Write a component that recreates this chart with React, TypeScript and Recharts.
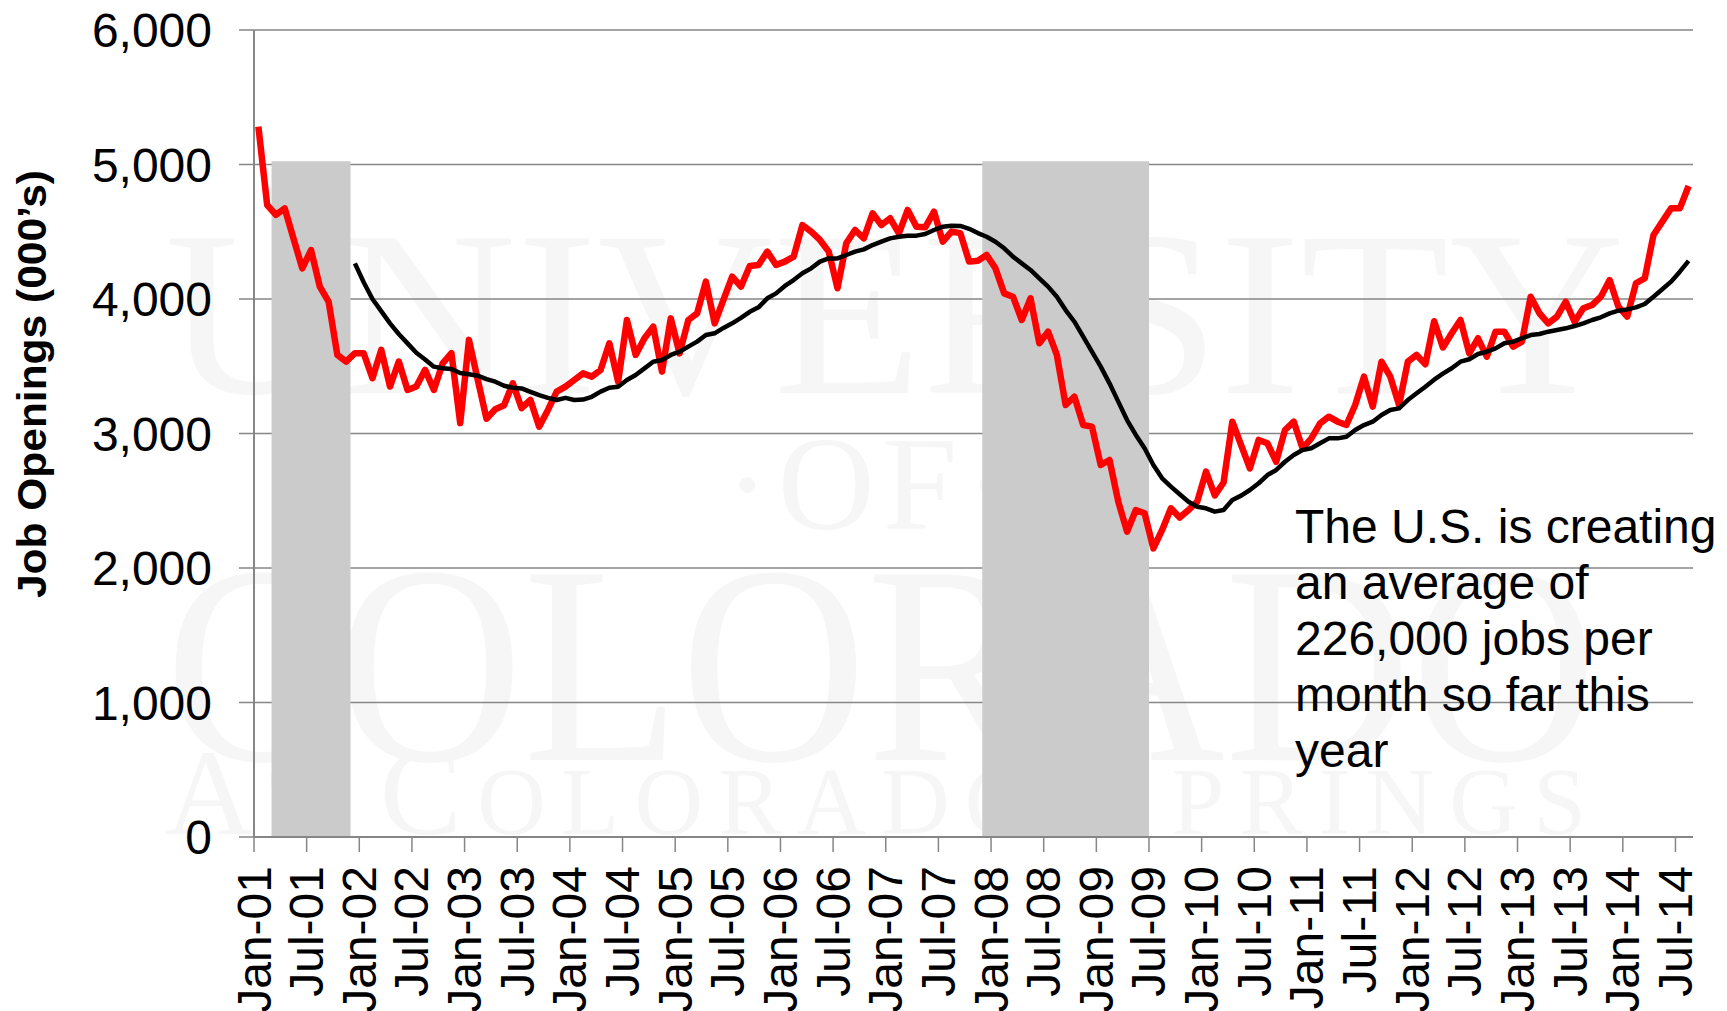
import React from 'react'
import { LineChart, Line, XAxis, YAxis, CartesianGrid, ReferenceArea } from 'recharts'

// Job openings (000's), monthly from Jan-01 to Aug-14
const openings = [
    5281, 4699, 4625, 4674, 4450, 4228, 4364, 4092, 3981, 3584, 3535, 3597,
    3597, 3411, 3622, 3349, 3535, 3324, 3349, 3473, 3324, 3522, 3597, 3077,
    3696, 3400, 3110, 3180, 3210, 3373, 3188, 3250, 3051, 3175, 3311, 3348,
    3398, 3447, 3423, 3472, 3671, 3385, 3844, 3584, 3708, 3794, 3460, 3856,
    3596, 3844, 3893, 4129, 3819, 3993, 4166, 4092, 4245, 4253, 4352, 4253,
    4278, 4315, 4550, 4501, 4439, 4352, 4080, 4414, 4513, 4451, 4637, 4550,
    4600, 4488, 4662, 4538, 4533, 4649, 4426, 4501, 4490, 4278, 4285, 4327,
    4228, 4042, 4017, 3844, 4005, 3671, 3757, 3584, 3212, 3274, 3063, 3051,
    2766, 2803, 2493, 2270, 2431, 2407, 2146, 2283, 2444, 2375, 2431, 2493,
    2716, 2540, 2636, 3088, 2914, 2741, 2952, 2927, 2790, 3026, 3088, 2890,
    2964, 3076, 3125, 3088, 3063, 3212, 3423, 3200, 3534, 3423, 3212, 3534,
    3584, 3515, 3835, 3640, 3745, 3844, 3596, 3708, 3571, 3757, 3757, 3646,
    3683, 4017, 3894, 3819, 3869, 3980, 3831, 3931, 3955, 4017, 4141, 3943,
    3869, 4117, 4154, 4476, 4575, 4674, 4674, 4840,
]

// 12-month moving average, starts at Dec-01
const avgStart = 11
const movingAverage = [
    4265,
    4125, 4000, 3910, 3819, 3740, 3670, 3600, 3550, 3497, 3485, 3480, 3450,
    3440, 3430, 3405, 3385, 3355, 3340, 3335, 3310, 3286, 3265, 3249, 3265,
    3249, 3252, 3273, 3311, 3340, 3348, 3398, 3435, 3484, 3534, 3546, 3584,
    3608, 3646, 3683, 3732, 3745, 3785, 3819, 3860, 3905, 3938, 4005, 4042,
    4097, 4141, 4191, 4228, 4278, 4302, 4302, 4327, 4352, 4369, 4401, 4426,
    4451, 4463, 4471, 4471, 4483, 4513, 4538, 4545, 4543, 4522, 4490, 4463,
    4426, 4377, 4315, 4265, 4216, 4154, 4092, 4017, 3918, 3831, 3720, 3608,
    3497, 3373, 3237, 3100, 2989, 2890, 2766, 2667, 2605, 2548, 2493, 2456,
    2444, 2419, 2431, 2506, 2538, 2580, 2630, 2691, 2729, 2790, 2840, 2877,
    2890, 2927, 2964, 2964, 2976, 3026, 3063, 3088, 3138, 3175, 3187, 3249,
    3299, 3348, 3400, 3445, 3485, 3534, 3552, 3591, 3608, 3633, 3671, 3683,
    3708, 3732, 3740, 3757, 3770, 3782, 3799, 3819, 3844, 3864, 3893, 3913,
    3923, 3938, 3963, 4017, 4072, 4129, 4203, 4283,
]

const tickLabels = [
    'Jan-01', 'Jul-01', 'Jan-02', 'Jul-02', 'Jan-03', 'Jul-03', 'Jan-04', 'Jul-04',
    'Jan-05', 'Jul-05', 'Jan-06', 'Jul-06', 'Jan-07', 'Jul-07', 'Jan-08', 'Jul-08',
    'Jan-09', 'Jul-09', 'Jan-10', 'Jul-10', 'Jan-11', 'Jul-11', 'Jan-12', 'Jul-12',
    'Jan-13', 'Jul-13', 'Jan-14', 'Jul-14',
]
const yTicks = [0, 1000, 2000, 3000, 4000, 5000, 6000]

// recessions, as month indexes (Mar-01..Nov-01, Dec-07..Jun-09)
const recessionStart = [2, 83]
const recessionEnd = [10, 101]
const recessionTop = 5025

const noteLines = ['The U.S. is creating', 'an average of', '226,000 jobs per', 'month so far this', 'year']

const FONT = '"Liberation Sans", Arial, sans-serif'
const SERIF = '"Liberation Serif", "Times New Roman", serif'
const AXIS_GRAY = '#868686'

const data = openings.map((v, i) => ({
    i,
    openings: v,
    avg: i >= avgStart ? movingAverage[i - avgStart] : null,
}))
const xTicks = tickLabels.map((_, k) => k * 6 - 0.5)

const XTick = (props: any) => {
    const { x, y, payload } = props
    const label = tickLabels[Math.round((payload.value + 0.5) / 6)]
    return (
        <text
            x={x}
            y={y}
            transform={`rotate(-90 ${x} ${y})`}
            textAnchor="end"
            dominantBaseline="central"
            fontSize={48}
            fontFamily={FONT}
            fill="#000"
        >
            {label}
        </text>
    )
}

const YTitle = () => (
    <text
        x={46}
        y={384}
        transform="rotate(-90 46 384)"
        textAnchor="middle"
        fontSize={40}
        fontWeight="bold"
        fontFamily={FONT}
        fill="#000"
        textLength={428}
        lengthAdjust="spacingAndGlyphs"
    >
        Job Openings (000’s)
    </text>
)

function Watermark() {
    const c = '#f6f6f6'
    return (
        <svg width={1727} height={1011} style={{ position: 'absolute', left: 0, top: 0 }}>
            <text x={165} y={393} fontSize={236} fontFamily={SERIF} fill={c} textLength={1460} lengthAdjust="spacingAndGlyphs">
                UNIVERSITY
            </text>
            <text x={725} y={529} fontSize={134} fontFamily={SERIF} fill={c} textLength={285} lengthAdjust="spacing">
                ·OF·
            </text>
            <text x={165} y={760} fontSize={283} fontFamily={SERIF} fill={c} textLength={1432} lengthAdjust="spacingAndGlyphs">
                COLORADO
            </text>
            <text x={165} y={834} fontFamily={SERIF} fill={c} textLength={1421} lengthAdjust="spacing">
                <tspan fontSize={123}>A</tspan>
                <tspan fontSize={95}>T </tspan>
                <tspan fontSize={123}>C</tspan>
                <tspan fontSize={95}>OLORADO </tspan>
                <tspan fontSize={123}>S</tspan>
                <tspan fontSize={95}>PRINGS</tspan>
            </text>
        </svg>
    )
}

export default function App() {
    return (
        <div style={{ position: 'absolute', left: 0, top: 0, width: 1727, height: 1011, overflow: 'hidden', background: '#fff' }}>
            <Watermark />
            <div style={{ position: 'absolute', left: 0, top: 0 }}>
                <LineChart width={1727} height={1011} data={data} margin={{ top: 30, right: 34, left: 0, bottom: 0 }}>
                    <CartesianGrid vertical={false} stroke={AXIS_GRAY} strokeWidth={1.5} />
                    {recessionStart.map((s, k) => (
                        <ReferenceArea
                            key={k}
                            x1={s - 0.5}
                            x2={recessionEnd[k] + 0.5}
                            y1={0}
                            y2={recessionTop}
                            fill="#cbcbcb"
                            fillOpacity={1}
                            stroke="none"
                        />
                    ))}
                    <XAxis
                        dataKey="i"
                        type="number"
                        domain={[-0.5, 163.5]}
                        ticks={xTicks}
                        interval={0}
                        height={174}
                        tickSize={15}
                        tickMargin={14}
                        tick={<XTick />}
                        axisLine={{ stroke: AXIS_GRAY, strokeWidth: 2 }}
                        tickLine={{ stroke: AXIS_GRAY, strokeWidth: 1.5 }}
                    />
                    <YAxis
                        domain={[0, 6000]}
                        ticks={yTicks}
                        interval={0}
                        width={254}
                        tickSize={15}
                        tickMargin={27}
                        tickFormatter={(v: number) => v.toLocaleString('en-US')}
                        tick={{ fontSize: 48, fill: '#000', fontFamily: FONT }}
                        axisLine={{ stroke: AXIS_GRAY, strokeWidth: 2 }}
                        tickLine={{ stroke: AXIS_GRAY, strokeWidth: 1.5 }}
                        label={{ content: () => <YTitle /> }}
                    />
                    <Line
                        type="linear"
                        dataKey="openings"
                        stroke="#ff0000"
                        strokeWidth={6.5}
                        strokeLinejoin="round"
                        dot={false}
                        isAnimationActive={false}
                    />
                    <Line
                        type="linear"
                        dataKey="avg"
                        stroke="#000"
                        strokeWidth={4.5}
                        strokeLinejoin="round"
                        dot={false}
                        isAnimationActive={false}
                    />
                </LineChart>
            </div>
            <div
                style={{
                    position: 'absolute',
                    left: 1295,
                    top: 499,
                    fontFamily: FONT,
                    fontSize: 48,
                    lineHeight: '56px',
                    color: '#000',
                    whiteSpace: 'nowrap',
                }}
            >
                {noteLines.map((t, k) => (
                    <div key={k}>{t}</div>
                ))}
            </div>
        </div>
    )
}
